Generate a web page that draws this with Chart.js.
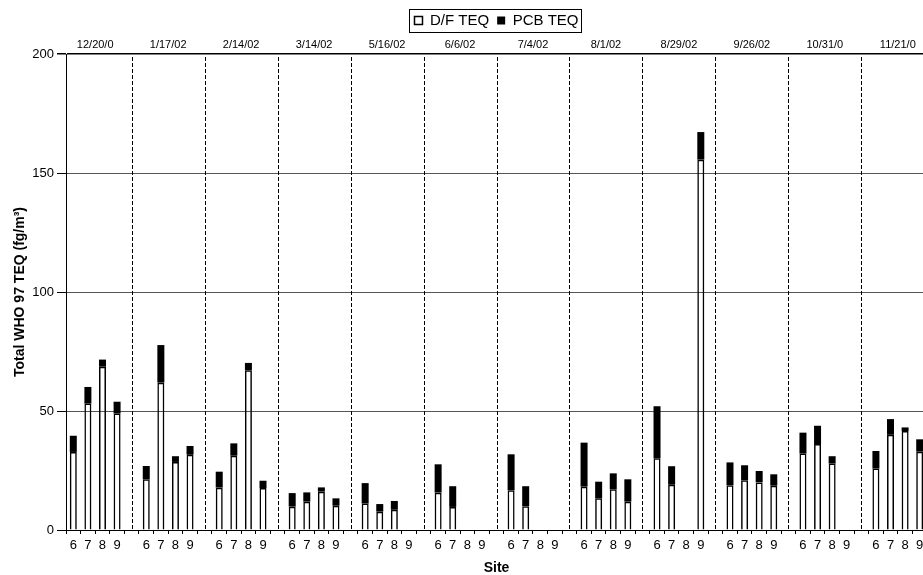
<!DOCTYPE html>
<html>
<head>
<meta charset="utf-8">
<title>Total WHO 97 TEQ by site</title>
<script src="https://cdn.jsdelivr.net/npm/chart.js@4.4.1/dist/chart.umd.min.js"></script>
<style>
  html, body { margin: 0; padding: 0; background: #fff; overflow: hidden; }
</style>
</head>
<body>
<canvas id="myChart" width="935" height="575"></canvas>
<script>
// sampling dates (labels are clipped in the original, kept as shown)
const sampleDates = ['12/20/0', '1/17/02', '2/14/02', '3/14/02', '5/16/02', '6/6/02',
    '7/4/02', '8/1/02', '8/29/02', '9/26/02', '10/31/0', '11/21/0'];
const sites = ['6', '7', '8', '9'];

// one row per date, one value per site (null = no sample)
const dfTeq = [
    [32.8, 53.1, 68.6, 48.9],
    [21.3, 61.9, 28.6, 31.6],
    [17.8, 31.2, 67.1, 17.6],
    [9.8, 11.9, 16.1, 10.2],
    [11.1, 7.7, 8.5, null],
    [15.7, 9.7, null, null],
    [16.7, 10.0, null, null],
    [18.2, 13.3, 17.1, 11.9],
    [30.1, 19.0, null, 155.6],
    [18.8, 20.9, 20.0, 18.6],
    [32.1, 36.1, 27.9, null],
    [25.8, 40.0, 41.6, 32.9]
];
const pcbTeq = [
    [6.8, 7.0, 3.0, 5.0],
    [5.6, 15.8, 2.4, 3.7],
    [6.7, 5.2, 3.1, 3.1],
    [5.7, 3.9, 1.8, 3.1],
    [8.6, 3.2, 3.7, null],
    [11.9, 8.7, null, null],
    [15.1, 8.4, null, null],
    [18.5, 7.0, 6.7, 9.4],
    [21.9, 7.8, null, 11.6],
    [9.6, 6.3, 4.8, 4.8],
    [8.8, 7.7, 3.1, null],
    [7.4, 6.6, 1.5, 5.2]
];
const yTicks = [0, 50, 100, 150, 200];

const FONT = "'Liberation Sans', Arial, sans-serif";

// flatten: 4 sites per date + an empty slot between dates
var labels = [], dfData = [], pcbData = [];
sampleDates.forEach(function (d, g) {
    sites.forEach(function (s, i) {
        labels.push(s);
        dfData.push(dfTeq[g][i]);
        pcbData.push(pcbTeq[g][i]);
    });
    if (g < sampleDates.length - 1) {
        labels.push('');
        dfData.push(null);
        pcbData.push(null);
    }
});

// dashed lines in the empty slots + date label over each group
const dateGroups = {
    id: 'dateGroups',
    beforeDatasetsDraw(chart) {
        const x = chart.scales.x;
        const area = chart.chartArea;
        const c = chart.ctx;
        c.save();
        c.strokeStyle = '#000';
        c.lineWidth = 1;
        c.setLineDash([4, 2]);
        for (let g = 0; g < sampleDates.length - 1; g++) {
            const px = Math.round(x.getPixelForValue(g * 5 + 4)) + 0.5;
            c.beginPath();
            c.moveTo(px, area.top + 3);
            c.lineTo(px, area.bottom);
            c.stroke();
        }
        c.restore();
    },
    afterDraw(chart) {
        const x = chart.scales.x;
        const c = chart.ctx;
        c.save();
        c.fillStyle = '#000';
        c.font = '11px ' + FONT;
        c.textAlign = 'center';
        c.textBaseline = 'middle';
        sampleDates.forEach(function (d, g) {
            const px = (x.getPixelForValue(g * 5 + 1) + x.getPixelForValue(g * 5 + 2)) / 2;
            c.fillText(d, px, chart.chartArea.top - 9);
        });
        c.restore();
    }
};

// center the legend on the plot and put a frame round it
const legendFrame = {
    id: 'legendFrame',
    afterLayout(chart) {
        const lg = chart.legend;
        const d = (chart.chartArea.left + chart.chartArea.right) / 2 - (lg.left + lg.right) / 2;
        lg.left += d;
        lg.right += d;
    },
    afterDraw(chart) {
        const boxes = chart.legend.legendHitBoxes;
        if (!boxes || !boxes.length) return;
        let l = Infinity, r = -Infinity, t = Infinity, b = -Infinity;
        boxes.forEach(function (h) {
            l = Math.min(l, h.left);
            r = Math.max(r, h.left + h.width);
            t = Math.min(t, h.top);
            b = Math.max(b, h.top + h.height);
        });
        const c = chart.ctx;
        c.save();
        c.strokeStyle = '#000';
        c.lineWidth = 1;
        c.strokeRect(Math.round(l - 5) + 0.5, Math.round(t - 4) + 0.5, Math.round(r - l + 8), Math.round(b - t + 8));
        c.restore();
    }
};

const ctx = document.getElementById('myChart');

var myChart = new Chart(ctx, {
    type: 'bar',
    data: {
        labels: labels,
        datasets: [{
            label: 'D/F TEQ',
            data: dfData,
            backgroundColor: 'rgba(255,255,255,0)',
            borderColor: '#000',
            borderWidth: 1.5
        }, {
            label: 'PCB TEQ',
            data: pcbData,
            backgroundColor: '#000',
            borderColor: '#000',
            borderWidth: 0
        }]
    },
    options: {
        responsive: false,
        animation: false,
        barPercentage: 0.48,
        categoryPercentage: 1,
        layout: { padding: { top: 5, right: 8, left: 0, bottom: 0 } },
        plugins: {
            tooltip: { enabled: false },
            legend: {
                position: 'top',
                labels: {
                    boxWidth: 8,
                    boxHeight: 8,
                    padding: 8,
                    color: '#000',
                    font: { family: FONT, size: 15 }
                }
            }
        },
        scales: {
            x: {
                stacked: true,
                grid: { drawOnChartArea: false, tickLength: 4, tickColor: '#000' },
                border: { color: '#000', width: 1 },
                ticks: {
                    autoSkip: false, maxRotation: 0, padding: 4, color: '#000',
                    font: { family: FONT, size: 13 }
                },
                title: {
                    display: true, text: 'Site', color: '#000',
                    font: { family: FONT, size: 14, weight: 'bold', lineHeight: 1 },
                    padding: { top: 0, bottom: 0 }
                },
                afterFit: function (scale) { scale.height = 45; }
            },
            // empty band above the plot that holds the date labels
            xTop: {
                type: 'linear',
                position: 'top',
                min: 0,
                max: 1,
                grid: { display: false, drawTicks: false },
                border: { display: false },
                ticks: { display: false },
                afterFit: function (scale) { scale.height = 16; }
            },
            y: {
                stacked: true,
                min: 0,
                max: 200,
                afterBuildTicks: function (scale) {
                    scale.ticks = yTicks.map(function (v) { return { value: v }; });
                },
                grid: {
                    color: function (c) { return c.tick && c.tick.value === 200 ? '#000' : '#555'; },
                    lineWidth: function (c) { return c.tick && c.tick.value === 200 ? 1.5 : 1; },
                    tickLength: 9,
                    tickColor: '#000'
                },
                border: { color: '#000', width: 1 },
                ticks: { padding: 3, color: '#000', font: { family: FONT, size: 13 } },
                title: {
                    display: true, text: 'Total WHO 97 TEQ (fg/m³)', color: '#000',
                    font: { family: FONT, size: 14, weight: 'bold' },
                    padding: { top: 12, bottom: 0 }
                },
                afterFit: function (scale) { scale.width = 66; }
            }
        }
    },
    plugins: [dateGroups, legendFrame]
});
</script>
</body>
</html>
